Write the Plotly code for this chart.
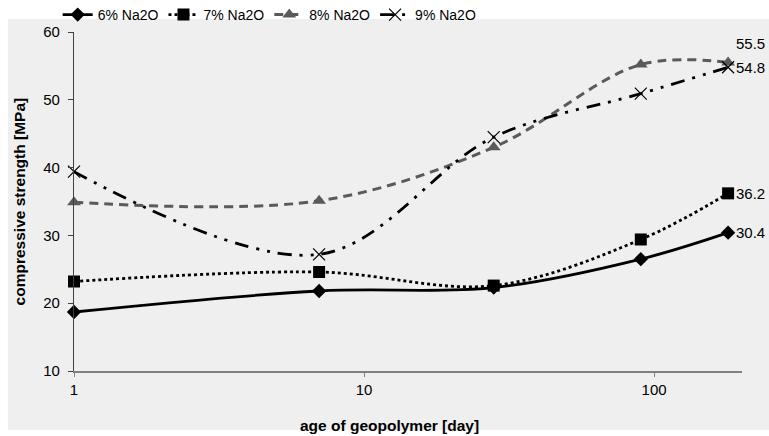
import math
import plotly.graph_objects as go

# Age of the geopolymer samples (days) and compressive strength (MPa)
days = [1, 7, 28, 90, 180]
na6 = [18.7, 21.8, 22.3, 26.5, 30.4]
na7 = [23.2, 24.6, 22.6, 29.4, 36.2]
na8 = [34.9, 35.1, 43.0, 55.2, 55.5]
na9 = [39.4, 27.2, 44.5, 50.9, 54.8]

series_names = ["6% Na2O", "7% Na2O", "8% Na2O", "9% Na2O"]
y_ticks = [10, 20, 30, 40, 50, 60]
x_ticks = [1, 10, 100]

FONT = "Arial, Liberation Sans, sans-serif"
PANEL = "#efefef"

fig = go.Figure()

styles = [
    dict(values=na6, color="black", dash="solid", width=2.8,
         marker=dict(symbol="diamond", size=11, color="black")),
    dict(values=na7, color="black", dash="dot", width=2.8,
         marker=dict(symbol="square", size=12, color="black")),
    dict(values=na8, color="#5a5a5a", dash="9px,6px", width=3,
         marker=dict(symbol="triangle-up", size=12, color="#5a5a5a")),
    dict(values=na9, color="black", dash="14px,8px,3px,8px,3px,8px", width=2.8,
         marker=dict(symbol="x-thin-open", size=12,
                     line=dict(color="#606060", width=1.2))),
]

for name, st in zip(series_names, styles):
    fig.add_trace(go.Scatter(
        x=days, y=st["values"], name=name, mode="lines+markers",
        line=dict(color=st["color"], dash=st["dash"], width=st["width"],
                  shape="spline", smoothing=1.0),
        marker=st["marker"], cliponaxis=False,
    ))

# value labels on the final measurement of each series
label_specs = [
    (na6, "middle", 0),
    (na7, "middle", 0),
    (na8, "bottom", 9),
    (na9, "middle", 0),
]
for vals, ya, ys in label_specs:
    fig.add_annotation(
        x=math.log10(days[-1]), y=vals[-1], text=f"{vals[-1]:.1f}",
        showarrow=False, xanchor="left", yanchor=ya, xshift=6, yshift=ys,
        font=dict(family=FONT, size=15, color="black"),
    )

# axis titles, centred on the chart area
fig.add_annotation(
    xref="paper", yref="paper", x=0.4716, y=-0.16,
    text="<b>age of geopolymer [day]</b>", showarrow=False,
    xanchor="center", yanchor="middle",
    font=dict(family=FONT, size=15.5, color="black"),
)
fig.add_annotation(
    xref="paper", yref="paper", x=-0.081, y=0.5,
    text="<b>compressive strength [MPa]</b>", showarrow=False,
    textangle=-90, xanchor="center", yanchor="middle",
    font=dict(family=FONT, size=15.5, color="black"),
)

# light grey panel behind the chart (white margin on top and left)
fig.add_shape(type="rect", xref="paper", yref="paper", layer="below",
              x0=-0.099, x1=1.045, y0=-0.174, y1=1.038,
              fillcolor=PANEL, line=dict(width=0))

fig.update_layout(
    width=769, height=436,
    margin=dict(l=74, r=27, t=32, b=65, autoexpand=False),
    paper_bgcolor="white", plot_bgcolor="rgba(0,0,0,0)",
    font=dict(family=FONT, size=15, color="black"),
    showlegend=True,
    legend=dict(orientation="h", xref="container", yref="container",
                x=0.075, xanchor="left", y=1 - 15 / 436, yanchor="middle",
                font=dict(family=FONT, size=14),
                bgcolor="rgba(0,0,0,0)", itemwidth=30, tracegroupgap=0),
    xaxis=dict(
        type="log", range=[0, math.log10(201)], automargin=False,
        tickvals=x_ticks, ticktext=[str(v) for v in x_ticks],
        showgrid=False, zeroline=False,
        showline=True, linecolor="#808080", linewidth=2,
        ticks="outside", ticklen=4, tickcolor="#808080",
        tickfont=dict(family=FONT, size=15),
    ),
    yaxis=dict(
        range=[10, 60], tickvals=y_ticks, automargin=False,
        showgrid=False, zeroline=False,
        showline=True, linecolor="#404040", linewidth=1.2,
        ticks="outside", ticklen=5, tickcolor="#404040",
        ticklabelstandoff=5,
        tickfont=dict(family=FONT, size=15),
    ),
)

fig.write_html("out.html")
